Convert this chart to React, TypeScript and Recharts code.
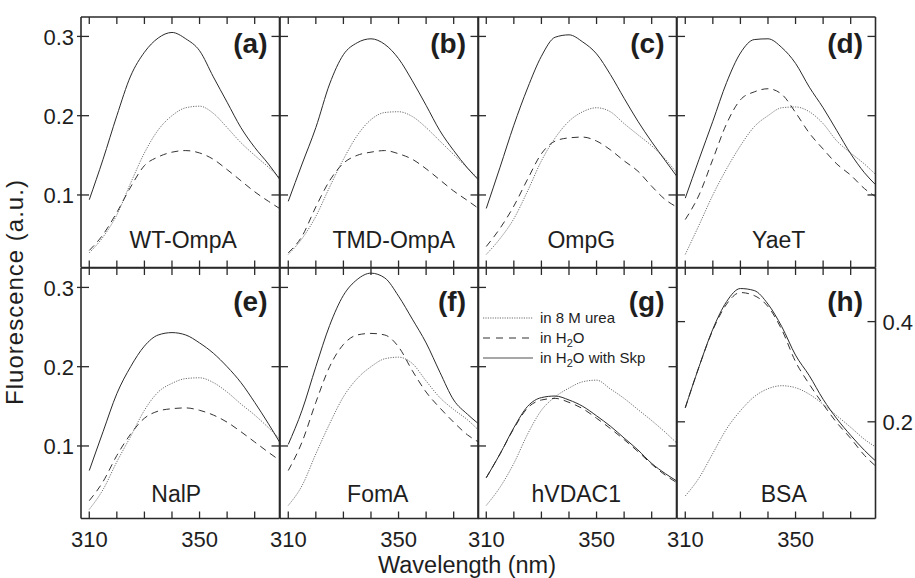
import React from "react";
import { LineChart, Line, XAxis, YAxis, Legend } from "recharts";

// emission wavelength grid (nm)
const WAVELENGTH = [310, 315, 320, 325, 330, 335, 340, 345, 350, 355, 360, 365, 370, 375, 379];

// (a) WT-OmpA
const WT_UREA = [0.027, 0.047, 0.075, 0.115, 0.153, 0.182, 0.2, 0.21, 0.212, 0.203, 0.185, 0.166, 0.15, 0.135, 0.122];
const WT_H2O = [0.03, 0.05, 0.078, 0.11, 0.137, 0.148, 0.154, 0.156, 0.153, 0.145, 0.132, 0.118, 0.104, 0.092, 0.083];
const WT_SKP = [0.094, 0.145, 0.2, 0.25, 0.28, 0.298, 0.305, 0.297, 0.282, 0.249, 0.217, 0.185, 0.16, 0.139, 0.12];

// (b) TMD-OmpA
const TMD_UREA = [0.025, 0.045, 0.073, 0.11, 0.145, 0.175, 0.195, 0.204, 0.205, 0.199, 0.185, 0.168, 0.151, 0.134, 0.12];
const TMD_H2O = [0.027, 0.048, 0.085, 0.118, 0.14, 0.15, 0.154, 0.156, 0.152, 0.145, 0.133, 0.119, 0.105, 0.093, 0.083];
const TMD_SKP = [0.092, 0.139, 0.185, 0.24, 0.277, 0.292, 0.297, 0.29, 0.272, 0.244, 0.213, 0.181, 0.156, 0.134, 0.119];

// (c) OmpG
const OMPG_UREA = [0.025, 0.045, 0.07, 0.105, 0.143, 0.172, 0.193, 0.205, 0.21, 0.205, 0.19, 0.176, 0.162, 0.145, 0.128];
const OMPG_H2O = [0.035, 0.058, 0.086, 0.12, 0.152, 0.168, 0.172, 0.173, 0.168, 0.157, 0.143, 0.13, 0.111, 0.094, 0.085];
const OMPG_SKP = [0.083, 0.135, 0.188, 0.235, 0.275, 0.299, 0.302, 0.293, 0.278, 0.252, 0.222, 0.193, 0.167, 0.143, 0.124];

// (d) YaeT
const YAET_UREA = [0.025, 0.062, 0.1, 0.133, 0.162, 0.186, 0.2, 0.21, 0.211, 0.205, 0.19, 0.168, 0.153, 0.139, 0.126];
const YAET_H2O = [0.069, 0.1, 0.145, 0.19, 0.22, 0.23, 0.234, 0.227, 0.204, 0.178, 0.158, 0.139, 0.125, 0.108, 0.098];
const YAET_SKP = [0.096, 0.145, 0.193, 0.242, 0.279, 0.296, 0.297, 0.286, 0.266, 0.236, 0.21, 0.181, 0.152, 0.128, 0.113];

// (e) NalP
const NALP_UREA = [0.02, 0.045, 0.08, 0.112, 0.145, 0.168, 0.179, 0.185, 0.186, 0.18, 0.168, 0.153, 0.139, 0.123, 0.109];
const NALP_H2O = [0.031, 0.055, 0.088, 0.115, 0.135, 0.144, 0.147, 0.148, 0.145, 0.139, 0.13, 0.118, 0.105, 0.092, 0.082];
const NALP_SKP = [0.069, 0.118, 0.166, 0.2, 0.226, 0.24, 0.243, 0.24, 0.23, 0.217, 0.2, 0.18, 0.155, 0.128, 0.105];

// (f) FomA
const FOMA_UREA = [0.025, 0.05, 0.09, 0.128, 0.162, 0.185, 0.2, 0.21, 0.212, 0.204, 0.182, 0.161, 0.146, 0.133, 0.12];
const FOMA_H2O = [0.069, 0.105, 0.155, 0.2, 0.228, 0.24, 0.242, 0.24, 0.225, 0.195, 0.168, 0.148, 0.13, 0.114, 0.105];
const FOMA_SKP = [0.102, 0.145, 0.2, 0.252, 0.29, 0.31, 0.318, 0.312, 0.289, 0.26, 0.23, 0.193, 0.158, 0.14, 0.128];

// (g) hVDAC1
const VDAC_UREA = [0.025, 0.048, 0.078, 0.115, 0.145, 0.162, 0.173, 0.181, 0.183, 0.172, 0.16, 0.146, 0.132, 0.117, 0.104];
const VDAC_H2O = [0.06, 0.09, 0.122, 0.148, 0.158, 0.16, 0.155, 0.147, 0.135, 0.122, 0.108, 0.093, 0.077, 0.063, 0.054];
const VDAC_SKP = [0.06, 0.09, 0.123, 0.15, 0.161, 0.163, 0.158, 0.15, 0.138, 0.125, 0.11, 0.095, 0.078, 0.065, 0.056];

// (h) BSA (right-hand scale)
const BSA_UREA = [0.052, 0.088, 0.137, 0.186, 0.222, 0.25, 0.266, 0.272, 0.268, 0.255, 0.235, 0.212, 0.189, 0.165, 0.15];
const BSA_H2O = [0.228, 0.31, 0.383, 0.435, 0.458, 0.452, 0.43, 0.384, 0.32, 0.275, 0.235, 0.198, 0.167, 0.133, 0.112];
const BSA_SKP = [0.228, 0.31, 0.385, 0.44, 0.466, 0.462, 0.435, 0.39, 0.333, 0.292, 0.245, 0.206, 0.173, 0.143, 0.122];

const PANEL_NAMES = ["WT-OmpA", "TMD-OmpA", "OmpG", "YaeT", "NalP", "FomA", "hVDAC1", "BSA"];
const PANEL_LETTERS = ["(a)", "(b)", "(c)", "(d)", "(e)", "(f)", "(g)", "(h)"];
const SERIES_NAMES = ["in 8 M urea", "in H2O", "in H2O with Skp"];

const X_TICKS = [310, 320, 330, 340, 350, 360, 370];
const X_LABELS = [310, 350];
const Y_TICKS = [0.1, 0.2, 0.3];
const BSA_TICKS = [0.2, 0.4];

const PANELS = [
  [WT_UREA, WT_H2O, WT_SKP],
  [TMD_UREA, TMD_H2O, TMD_SKP],
  [OMPG_UREA, OMPG_H2O, OMPG_SKP],
  [YAET_UREA, YAET_H2O, YAET_SKP],
  [NALP_UREA, NALP_H2O, NALP_SKP],
  [FOMA_UREA, FOMA_H2O, FOMA_SKP],
  [VDAC_UREA, VDAC_H2O, VDAC_SKP],
  [BSA_UREA, BSA_H2O, BSA_SKP],
];

// layout
const X0 = 81;
const Y0 = 17;
const PW = 198.5;
const PH = 250.5;
const M = 50; // margin around each plot frame (axes take 1px of it)
const NAME_DX = [3, 15, 4, 3, -4, -1, -1, 8];
const FONT = '"Liberation Sans", Arial, Helvetica, sans-serif';
const INK = "#1e1e1e";
const FRAME = "#2a2a2a";

const LINE_STYLES = [
  { stroke: "#6e6e6e", dash: "1.2 1.3", width: 1 },
  { stroke: "#333", dash: "7 5", width: 1 },
  { stroke: "#2a2a2a", dash: undefined, width: 1 },
];
const KEYS = ["urea", "h2o", "skp"];

const withSub = (s: string) => {
  const i = s.indexOf("H2O");
  if (i < 0) return s;
  return (
    <>
      {s.slice(0, i)}H<tspan fontSize={11} dy={4}>2</tspan>
      <tspan dy={-4}>O</tspan>
      {s.slice(i + 3)}
    </>
  );
};

const xTick = (dir: number, labels: boolean) => (p: any) => {
  const { x, y, payload } = p;
  return (
    <g>
      <line x1={x} x2={x} y1={y} y2={y + dir * 7} stroke={FRAME} strokeWidth={1.3} />
      {labels && X_LABELS.includes(payload.value) && (
        <text x={x} y={y + 28} textAnchor="middle" fontSize={22} fill={INK} fontFamily={FONT}>
          {payload.value}
        </text>
      )}
    </g>
  );
};

const yTick = (side: "l" | "r", outer: boolean, labels: boolean) => (p: any) => {
  const { x, y, payload } = p;
  const d = side === "l" ? 1 : -1;
  return (
    <g>
      <line x1={outer ? x - d * 4 : x} x2={x + d * 8} y1={y} y2={y} stroke={FRAME} strokeWidth={1.3} />
      {labels && (
        <text
          x={x - d * 7}
          y={y + 8.5}
          textAnchor={side === "l" ? "end" : "start"}
          fontSize={22}
          fill={INK}
          fontFamily={FONT}
        >
          {payload.value}
        </text>
      )}
    </g>
  );
};

const renderLegend = (props: any) => {
  const items = props.payload || [];
  return (
    <svg width={200} height={62} style={{ overflow: "visible" }}>
      {items.map((e: any, i: number) => {
        const cy = 8 + i * 20;
        return (
          <g key={i}>
            <line
              x1={0}
              x2={50}
              y1={cy}
              y2={cy}
              stroke={i === 2 ? "#8a8a8a" : LINE_STYLES[i].stroke}
              strokeWidth={i === 2 ? 1.6 : 1.1}
              strokeDasharray={i === 0 ? "1.2 1.2" : i === 1 ? "7 6" : undefined}
            />
            <text x={57} y={cy + 5} fontSize={15} fill={INK} fontFamily={FONT}>
              {withSub(String(e.value))}
            </text>
          </g>
        );
      })}
    </svg>
  );
};

function Panel({ idx }: { idx: number }) {
  const col = idx % 4;
  const row = Math.floor(idx / 4);
  const series = PANELS[idx];
  const data = WAVELENGTH.map((w, i) => ({
    w,
    urea: series[0][i],
    h2o: series[1][i],
    skp: series[2][i],
  }));
  const isBsa = idx === 7;
  const yDomain = isBsa ? [0.007, 0.507] : [0.0085, 0.3245];
  const yTicks = isBsa ? BSA_TICKS : Y_TICKS;
  const frame = { stroke: FRAME, strokeWidth: 1.6 };
  const axisCommon = {
    allowDataOverflow: true,
    interval: 0 as const,
    tickSize: 0,
    tickMargin: 0,
    tickLine: false,
    axisLine: frame,
  };
  return (
    <div style={{ position: "absolute", left: X0 + col * PW - M, top: Y0 + row * PH - M }}>
      <LineChart
        width={PW + 2 * M}
        height={PH + 2 * M}
        data={data}
        margin={{ top: M - 1, right: M - 1, bottom: M - 1, left: M - 1 }}
      >
        <XAxis
          {...axisCommon}
          xAxisId="b"
          dataKey="w"
          type="number"
          orientation="bottom"
          domain={[307, 379]}
          ticks={X_TICKS}
          height={1}
          tick={xTick(-1, row === 1)}
        />
        <XAxis
          {...axisCommon}
          xAxisId="t"
          dataKey="w"
          type="number"
          orientation="top"
          domain={[307, 379]}
          ticks={X_TICKS}
          height={1}
          tick={xTick(1, false)}
        />
        <YAxis
          {...axisCommon}
          yAxisId="l"
          type="number"
          orientation="left"
          domain={yDomain}
          ticks={yTicks}
          width={1}
          tick={yTick("l", col === 0, col === 0)}
        />
        <YAxis
          {...axisCommon}
          yAxisId="r"
          type="number"
          orientation="right"
          domain={yDomain}
          ticks={yTicks}
          width={1}
          tick={yTick("r", false, isBsa)}
        />
        {KEYS.map((k, i) => (
          <Line
            key={k}
            xAxisId="b"
            yAxisId="l"
            type="monotone"
            dataKey={k}
            name={SERIES_NAMES[i]}
            stroke={LINE_STYLES[i].stroke}
            strokeWidth={LINE_STYLES[i].width}
            strokeDasharray={LINE_STYLES[i].dash}
            dot={false}
            activeDot={false}
            isAnimationActive={false}
          />
        ))}
        {idx === 6 && (
          <Legend
            layout="vertical"
            align="center"
            verticalAlign="middle"
            content={renderLegend}
            wrapperStyle={{ left: 55, top: 92.5, width: 200, height: 62 }}
          />
        )}
      </LineChart>
    </div>
  );
}

export default function App() {
  return (
    <div
      style={{
        position: "absolute",
        left: 0,
        top: 0,
        width: 915,
        height: 578,
        background: "#fff",
        overflow: "hidden",
        fontFamily: FONT,
      }}
    >
      {PANELS.map((_, i) => (
        <Panel key={i} idx={i} />
      ))}
      <svg
        width={915}
        height={578}
        style={{ position: "absolute", left: 0, top: 0, pointerEvents: "none" }}
      >
        {PANEL_LETTERS.map((l, i) => {
          const col = i % 4;
          const row = Math.floor(i / 4);
          return (
            <text
              key={l}
              x={X0 + (col + 1) * PW - 12}
              y={row === 0 ? 53 : 311}
              textAnchor="end"
              fontSize={28}
              fontWeight="bold"
              fill={INK}
              fontFamily={FONT}
            >
              {l}
            </text>
          );
        })}
        {PANEL_NAMES.map((n, i) => {
          const col = i % 4;
          const row = Math.floor(i / 4);
          return (
            <text
              key={n}
              x={X0 + col * PW + PW / 2 + NAME_DX[i]}
              y={row === 0 ? 248 : 502}
              textAnchor="middle"
              fontSize={23}
              fill={INK}
              fontFamily={FONT}
            >
              {n}
            </text>
          );
        })}
        <text
          x={23}
          y={292}
          transform="rotate(-90, 23, 292)"
          textAnchor="middle"
          fontSize={24}
          letterSpacing={1}
          fill={INK}
          fontFamily={FONT}
        >
          Fluorescence (a.u.)
        </text>
        <text x={467} y={573} textAnchor="middle" fontSize={23.5} fill={INK} fontFamily={FONT}>
          Wavelength (nm)
        </text>
      </svg>
    </div>
  );
}
